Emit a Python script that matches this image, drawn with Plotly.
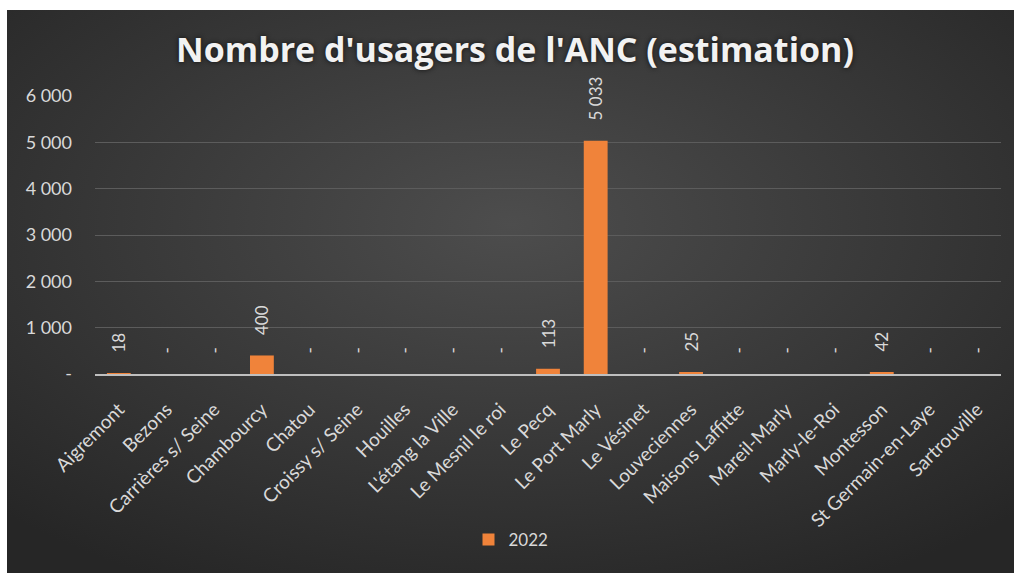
import base64
import plotly.graph_objects as go

communes = ["Aigremont", "Bezons", "Carrières s/ Seine", "Chambourcy", "Chatou",
            "Croissy s/ Seine", "Houilles", "L'étang la Ville", "Le Mesnil le roi",
            "Le Pecq", "Le Port Marly", "Le Vésinet", "Louveciennes", "Maisons Laffitte",
            "Mareil-Marly", "Marly-le-Roi", "Montesson", "St Germain-en-Laye", "Sartrouville"]
usagers_2022 = [18, 0, 0, 400, 0, 0, 0, 0, 0, 113, 5033, 0, 25, 0, 0, 0, 42, 0, 0]
y_tickvals = [0, 1000, 2000, 3000, 4000, 5000, 6000]
y_ticktext = ["-", "1 000", "2 000", "3 000", "4 000", "5 000", "6 000"]


def fmt(v):
    if v == 0:
        s = "-"
    else:
        s = f"{v:,}".replace(",", "\u00a0")
    return "\u00a0" * 4 + s


labels = [fmt(v) for v in usagers_2022]

FONT = "Lato"
TXT = "#d9d9d9"

W, H = 1014, 573
L, T = 95, 96
R = W - 1001
B = H - 374
pw, ph = W - L - R, H - T - B

svg = """<svg xmlns='http://www.w3.org/2000/svg' width='1007' height='563' preserveAspectRatio='none'>
<defs><radialGradient id='g' cx='0.5' cy='0.38' r='0.72'>
<stop offset='0' stop-color='#4d4d4d'/><stop offset='1' stop-color='#262626'/>
</radialGradient></defs>
<rect width='1007' height='563' fill='url(#g)'/></svg>"""
bg_src = "data:image/svg+xml;base64," + base64.b64encode(svg.encode()).decode()

fig = go.Figure()
fig.add_trace(go.Bar(
    x=communes, y=usagers_2022, name="2022",
    marker=dict(color="#F0833A", line=dict(width=0)),
    text=labels, textposition="outside", textangle=-90, constraintext="none",
    textfont=dict(family=FONT, size=17, color=TXT),
    cliponaxis=False, showlegend=True,
))

dark_x0, dark_y0 = 7, 10

fig.update_layout(
    width=W, height=H,
    margin=dict(l=L, r=R, t=T, b=B, autoexpand=False),
    paper_bgcolor="white",
    plot_bgcolor="rgba(0,0,0,0)",
    font=dict(family=FONT, color=TXT, size=17),
    bargap=0.5,
    title=dict(text="<b>Nombre d'usagers de l'ANC (estimation)</b>",
               x=515 / W, y=1 - 50 / H, xref="container", yref="container",
               xanchor="center", yanchor="middle",
               font=dict(family="Open Sans", size=34, color="#f2f2f2",
                         shadow="0px 0px 5px #111111")),
    legend=dict(orientation="h", x=511 / W, y=1 - 540 / H,
                xref="container", yref="container",
                xanchor="center", yanchor="middle", bgcolor="rgba(0,0,0,0)",
                font=dict(family=FONT, size=17, color=TXT)),
    images=[dict(source=bg_src, xref="paper", yref="paper",
                 x=(dark_x0 - L) / pw, y=(H - B - dark_y0) / ph,
                 sizex=(W - dark_x0) / pw, sizey=(H - dark_y0) / ph,
                 xanchor="left", yanchor="top", sizing="stretch", layer="below")],
    xaxis=dict(tickangle=-45, showgrid=False, showline=True, linecolor="#bfbfbf", linewidth=2,
               ticks="", tickfont=dict(family=FONT, size=19, color=TXT), ticklabelstandoff=15,
               zeroline=False, automargin=False),
    yaxis=dict(range=[0, 6000], tickvals=y_tickvals, ticktext=y_ticktext,
               showgrid=True, gridcolor="#5c5c5c", gridwidth=1, zeroline=False,
               showline=False, ticks="", ticklabelstandoff=22, automargin=False,
               tickfont=dict(family=FONT, size=18, color=TXT)),
)

fig.write_html("out.html", config={"displayModeBar": False},
               post_script="document.body.style.margin='0px';")
